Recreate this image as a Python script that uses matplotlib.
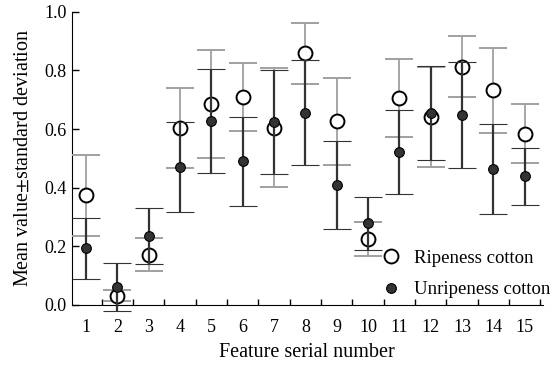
import matplotlib
matplotlib.use("Agg")
from matplotlib import pyplot as plt
from matplotlib.ticker import FixedLocator

# feature serial number
features = list(range(1, 16))

# ripeness cotton: mean and standard deviation
ripe_mean = [0.374, 0.032, 0.172, 0.604, 0.685, 0.710, 0.604, 0.858, 0.627, 0.224, 0.706, 0.641, 0.813, 0.732, 0.584]
ripe_std = [0.139, 0.020, 0.055, 0.136, 0.185, 0.116, 0.203, 0.104, 0.148, 0.058, 0.134, 0.171, 0.105, 0.145, 0.101]

# unripeness cotton: mean and standard deviation
unripe_mean = [0.193, 0.060, 0.236, 0.470, 0.628, 0.490, 0.623, 0.655, 0.408, 0.278, 0.521, 0.655, 0.648, 0.464, 0.439]
unripe_std = [0.105, 0.082, 0.096, 0.153, 0.177, 0.152, 0.178, 0.179, 0.150, 0.090, 0.143, 0.160, 0.180, 0.153, 0.098]

ytick_vals = [0.0, 0.2, 0.4, 0.6, 0.8, 1.0]

plt.rcParams['font.family'] = ['Liberation Serif', 'DejaVu Serif']
plt.rcParams['mathtext.fontset'] = 'stix'

fig = plt.figure(figsize=(5.55, 3.67), dpi=100)
ax = fig.add_axes([0.1297, 0.169, 0.848, 0.799])

ripe_err = ax.errorbar(features, ripe_mean, yerr=ripe_std, fmt='o', color='#a0a0a0',
                       ecolor='#a0a0a0', elinewidth=1.3, capsize=10, capthick=1.3,
                       markersize=10, markerfacecolor='white', markeredgecolor='black',
                       markeredgewidth=1.4, label='Ripeness cotton', clip_on=False, zorder=3)
unripe_err = ax.errorbar(features, unripe_mean, yerr=unripe_std, fmt='o', color='#333333',
                         ecolor='#333333', elinewidth=1.6, capsize=10, capthick=1.6,
                         markersize=7, markerfacecolor='#333333', markeredgecolor='black',
                         markeredgewidth=0.8, label='Unripeness cotton', clip_on=False, zorder=4)
for part in ripe_err.lines[1] + ripe_err.lines[2] + unripe_err.lines[1] + unripe_err.lines[2]:
    part.set_clip_on(False)
for part in unripe_err.lines[1] + unripe_err.lines[2]:
    part.set_zorder(4)

ax.set_xlim(0.55, 15.57)
ax.set_ylim(0, 1.0)
ax.spines['top'].set_visible(False)
ax.spines['right'].set_visible(False)

ax.set_xticks(features)
ax.set_xticklabels([str(f) for f in features])
ax.xaxis.set_minor_locator(FixedLocator([f + 0.5 for f in features]))
ax.tick_params(axis='x', which='major', length=0, labelsize=13, pad=10)
ax.tick_params(axis='x', which='minor', direction='in', length=4, width=1)
ax.set_yticks(ytick_vals)
ax.set_yticklabels(['%.1f' % v for v in ytick_vals])
ax.tick_params(axis='y', direction='in', length=5, width=1, labelsize=13, pad=4)

ax.set_xlabel('Feature serial number', fontsize=14.5, labelpad=5)
ax.set_ylabel(r'Mean value$\pm$standard deviation', fontsize=14.5, labelpad=8)

handles = [ripe_err.lines[0], unripe_err.lines[0]]
leg = ax.legend(handles, ['Ripeness cotton', 'Unripeness cotton'], loc='lower right',
                frameon=False, fontsize=13.5, handlelength=1.0, handletextpad=0.7,
                borderaxespad=0.2, labelspacing=0.75, bbox_to_anchor=(1.04, -0.015))

fig.savefig("out.png", dpi=100)
